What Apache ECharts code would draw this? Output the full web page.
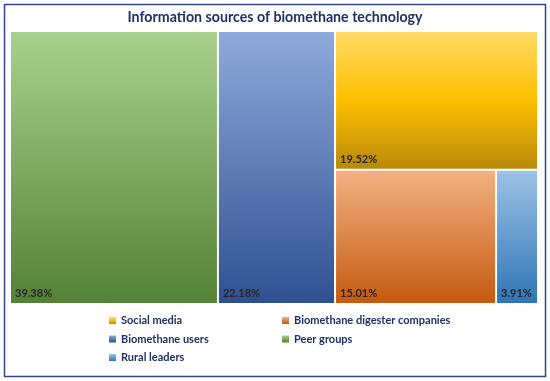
<!DOCTYPE html>
<html>
<head>
<meta charset="utf-8">
<script src="https://cdn.jsdelivr.net/npm/echarts@6/dist/echarts.min.js"></script>
<style>html,body{margin:0;padding:0;background:#fff}#c{width:550px;height:381px}</style>
</head>
<body>
<div id="c"></div>
<script>
const titleText = 'Information sources of biomethane technology';
const categories = ['Peer groups', 'Biomethane users', 'Social media', 'Biomethane digester companies', 'Rural leaders'];
const shares = [39.38, 22.18, 19.52, 15.01, 3.91];
const legendCol1 = ['Social media', 'Biomethane users', 'Rural leaders'];
const legendCol2 = ['Biomethane digester companies', 'Peer groups'];

const gradStops = {
  'Peer groups': [['#a9d18e', 0], ['#548235', 1]],
  'Biomethane users': [['#8eaadc', 0], ['#2f5090', 1]],
  'Social media': [['#ffd966', 0], ['#ffc000', 0.5], ['#b8890a', 1]],
  'Biomethane digester companies': [['#f4b183', 0], ['#c55a11', 1]],
  'Rural leaders': [['#9dc3e6', 0], ['#2e75b6', 1]]
};
function grad(name) {
  return new echarts.graphic.LinearGradient(0, 0, 0, 1,
    gradStops[name].map(s => ({ offset: s[1], color: s[0] })));
}

const chart = echarts.init(document.getElementById('c'), null, { renderer: 'canvas' });
const treeData = categories.map((n, i) => ({ name: n, value: shares[i], itemStyle: { color: grad(n) } }));
const pieData = categories.map((n, i) => ({ name: n, value: shares[i], itemStyle: { color: grad(n) } }));

const legendBase = {
  orient: 'vertical', top: 310,
  itemWidth: 7, itemHeight: 7, itemGap: 7.5,
  icon: 'rect', selectedMode: false,
  textStyle: { fontFamily: 'Lato', fontWeight: 'bold', fontSize: 11, color: '#1f3068' }
};

chart.setOption({
  animation: false,
  title: {
    text: titleText, left: 'center', top: 5,
    textStyle: { fontFamily: 'Lato', fontWeight: 'bold', fontSize: 14.2, color: '#1f3068' }
  },
  legend: [
    Object.assign({}, legendBase, { data: legendCol1, left: 104 }),
    Object.assign({}, legendBase, { data: legendCol2, left: 277 })
  ],
  graphic: [{
    type: 'rect', shape: { x: 4.5, y: 4.5, width: 541, height: 372 },
    style: { fill: null, stroke: '#34438f', lineWidth: 1.5 }, silent: true
  }],
  series: [
    {
      type: 'treemap',
      left: 11, top: 32, right: 13, bottom: 78,
      roam: false, nodeClick: false,
      breadcrumb: { show: false },
      squareRatio: 0.75,
      itemStyle: { borderWidth: 0, gapWidth: 2, borderColor: '#fff' },
      levels: [{ itemStyle: { borderWidth: 0, gapWidth: 2 } }],
      label: {
        show: true, position: 'insideBottomLeft', distance: 4, padding: 0,
        overflow: 'none',
        formatter: p => p.value.toFixed(2) + '%',
        fontFamily: 'Lato', fontWeight: 'bold', fontSize: 11, color: '#262626'
      },
      data: treeData
    },
    {
      type: 'pie', radius: [0, 0], center: [-50, -50], silent: true,
      label: { show: false }, labelLine: { show: false },
      data: pieData
    }
  ]
});
</script>
</body>
</html>
